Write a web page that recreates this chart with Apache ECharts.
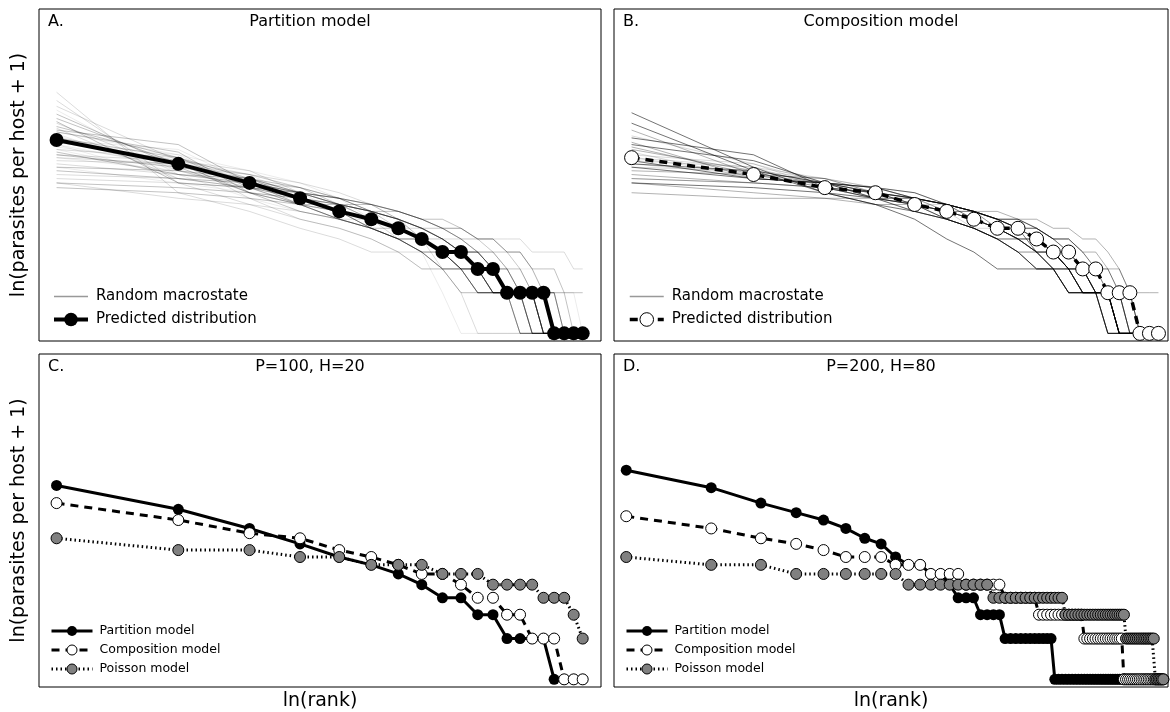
<!DOCTYPE html>
<html>
<head>
<meta charset="utf-8">
<script src="https://cdn.jsdelivr.net/npm/echarts@6/dist/echarts.min.js"></script>
<style>
html, body { margin: 0; padding: 0; background: #fff; }
#main { width: 1170px; height: 712px; }
</style>
</head>
<body>
<div id="main"></div>
<script>
var FONT = 'DejaVu Sans';

// parasites per host, sorted by rank (rank 1..H)
var partitionP100   = [26,17,12,9,7,6,5,4,3,3,2,2,1,1,1,1,0,0,0,0];
var compositionP100 = [19,14,11,10,8,7,6,5,5,4,3,3,2,2,1,1,1,0,0,0];
var poissonP100     = [10,8,8,7,7,6,6,6,5,5,5,4,4,4,4,3,3,3,2,1];

var partitionP200 = [34,25,19,16,14,12,10,9,7,6,6,5,5,4,3,3,3,2,2,2,
	2,1,1,1,1,1,1,1,1,1,1,1,0,0,0,0,0,0,0,0,
	0,0,0,0,0,0,0,0,0,0,0,0,0,0,0,0,0,0,0,0,
	0,0,0,0,0,0,0,0,0,0,0,0,0,0,0,0,0,0,0,0];
var compositionP200 = [15,12,10,9,8,7,7,7,6,6,6,5,5,5,5,4,4,4,4,4,
	4,3,3,3,3,3,3,3,2,2,2,2,2,2,2,2,2,2,2,2,
	2,1,1,1,1,1,1,1,1,1,1,1,1,1,1,1,1,0,0,0,
	0,0,0,0,0,0,0,0,0,0,0,0,0,0,0,0,0,0,0,0];
var poissonP200 = [7,6,6,5,5,5,5,5,5,4,4,4,4,4,4,4,4,4,4,3,
	3,3,3,3,3,3,3,3,3,3,3,3,3,3,3,2,2,2,2,2,
	2,2,2,2,2,2,2,2,2,2,2,2,2,2,2,2,2,2,1,1,
	1,1,1,1,1,1,1,1,1,1,1,1,1,1,0,0,0,0,0,0];

// random macrostates (P=100, H=20)
var randomPartitions = [
	[26,18,12,9,7,6,5,4,3,3,2,2,1,1,1,0,0,0,0,0],
	[35,15,11,8,7,5,4,4,3,2,2,1,1,1,1,0,0,0,0,0],
	[20,16,13,10,8,7,6,5,4,3,3,2,1,1,1,0,0,0,0,0],
	[44,14,9,7,6,5,4,3,2,2,1,1,1,1,0,0,0,0,0,0],
	[17,14,12,10,9,8,6,5,4,4,3,2,2,1,1,1,1,0,0,0],
	[30,21,10,8,6,5,5,4,3,2,2,1,1,1,1,0,0,0,0,0],
	[24,13,11,9,8,7,6,5,4,3,3,2,2,1,1,1,0,0,0,0],
	[52,12,8,6,5,4,3,3,2,2,1,1,1,0,0,0,0,0,0,0],
	[15,13,11,10,9,8,7,6,5,4,3,3,2,2,1,1,0,0,0,0],
	[28,16,14,9,7,6,4,4,3,3,2,1,1,1,1,0,0,0,0,0],
	[22,19,12,10,8,6,5,4,3,3,2,2,1,1,1,1,0,0,0,0],
	[38,17,10,8,6,5,4,3,3,2,1,1,1,1,0,0,0,0,0,0],
	[19,15,12,11,9,7,6,5,4,3,2,2,2,1,1,1,0,0,0,0],
	[32,13,12,9,8,6,5,4,3,2,2,1,1,1,1,0,0,0,0,0],
	[12,11,10,9,8,8,7,6,5,5,4,4,3,3,2,1,1,1,0,0],
	[25,20,11,9,7,6,5,4,3,2,2,2,1,1,1,1,0,0,0,0],
	[60,10,7,5,4,3,3,2,2,1,1,1,1,0,0,0,0,0,0,0],
	[21,14,13,10,8,7,6,5,4,3,3,2,1,1,1,1,0,0,0,0],
	[27,15,11,10,8,7,5,4,3,3,2,2,1,1,1,0,0,0,0,0],
	[18,17,12,10,9,7,6,5,4,3,3,2,1,1,1,1,0,0,0,0],
	[41,16,10,7,6,5,4,3,2,2,1,1,1,1,0,0,0,0,0,0],
	[23,17,13,9,8,6,5,4,4,3,2,2,1,1,1,1,0,0,0,0],
	[14,13,12,10,9,8,7,6,5,4,3,3,2,1,1,1,1,0,0,0],
	[33,19,11,8,7,5,4,3,3,2,2,1,1,1,0,0,0,0,0,0],
	[29,14,12,10,7,6,5,4,3,3,2,2,1,1,1,0,0,0,0,0],
	[47,18,9,6,5,4,3,2,2,1,1,1,1,0,0,0,0,0,0,0],
	[16,15,13,11,9,7,6,5,4,3,3,2,2,1,1,1,1,0,0,0],
	[26,22,12,8,7,5,4,4,3,2,2,2,1,1,1,0,0,0,0,0],
	[20,18,15,10,8,7,5,4,3,3,2,2,1,1,1,0,0,0,0,0],
	[36,12,11,9,7,6,5,4,3,2,2,1,1,1,0,0,0,0,0,0],
	[24,16,14,11,8,6,5,4,3,3,2,1,1,1,1,0,0,0,0,0],
	[19,17,14,11,8,7,6,4,4,3,2,2,1,1,1,0,0,0,0,0],
	[31,24,12,8,6,5,4,3,2,2,1,1,1,0,0,0,0,0,0,0],
	[22,14,12,11,9,7,6,5,4,3,2,2,1,1,1,0,0,0,0,0],
	[13,12,11,10,9,8,7,6,5,4,4,3,3,2,1,1,1,0,0,0],
	[27,19,13,9,7,5,4,4,3,3,2,1,1,1,1,0,0,0,0,0],
	[30,20,15,12,9,6,4,3,1,0,0,0,0,0,0,0,0,0,0,0],
	[25,18,14,12,10,8,6,4,2,1,0,0,0,0,0,0,0,0,0,0],
	[11,10,9,8,8,7,7,6,6,5,4,4,3,3,2,2,2,1,1,1],
	[16,12,10,9,8,7,6,5,5,4,4,3,3,2,2,1,1,1,1,0],
	[12,9,8,7,6,6,5,5,5,5,4,4,4,4,3,3,3,3,2,2]
];
var randomCompositions = [
	[19,14,11,10,8,7,6,5,5,4,3,3,2,2,1,0,0,0,0,0],
	[22,15,12,9,8,7,6,5,4,3,3,2,2,1,1,0,0,0,0,0],
	[16,13,12,10,9,8,7,6,5,4,3,2,2,1,1,1,0,0,0,0],
	[28,17,11,9,7,6,5,4,3,3,2,2,1,1,1,0,0,0,0,0],
	[14,12,11,10,9,8,7,6,5,5,4,3,2,2,1,1,0,0,0,0],
	[42,16,10,8,6,4,3,2,2,2,2,1,1,1,0,0,0,0,0,0],
	[20,17,12,10,8,7,5,5,4,3,3,2,2,1,1,0,0,0,0,0],
	[25,13,12,10,8,7,6,5,4,3,2,2,1,1,1,0,0,0,0,0],
	[12,11,10,9,9,8,7,6,6,5,4,4,3,2,2,1,1,0,0,0],
	[18,16,13,11,9,7,6,5,4,3,3,2,1,1,1,0,0,0,0,0],
	[31,14,11,9,8,6,5,4,3,3,2,1,1,1,1,0,0,0,0,0],
	[17,15,12,11,9,8,6,5,4,4,3,2,2,1,1,0,0,0,0,0],
	[21,13,12,10,9,7,6,5,4,4,3,2,1,1,1,1,0,0,0,0],
	[15,14,12,11,9,8,7,5,5,4,3,3,2,1,1,0,0,0,0,0],
	[35,15,10,8,7,6,5,4,3,2,2,1,1,1,0,0,0,0,0,0],
	[19,16,11,10,9,7,6,5,4,4,3,2,2,1,1,0,0,0,0,0],
	[13,12,11,10,9,8,7,7,6,5,4,3,2,1,1,1,0,0,0,0],
	[24,18,12,9,8,6,5,4,4,3,2,2,1,1,1,0,0,0,0,0],
	[17,14,13,10,8,8,7,6,5,4,3,2,1,1,1,0,0,0,0,0],
	[10,9,9,8,8,7,7,6,6,6,5,5,4,4,3,2,1,0,0,0],
	[27,20,11,9,7,6,5,4,3,2,2,1,1,1,1,0,0,0,0,0],
	[16,15,13,11,10,8,7,5,4,3,3,2,1,1,1,0,0,0,0,0],
	[23,14,13,10,8,7,6,5,4,3,2,2,1,1,1,0,0,0,0,0],
	[18,13,12,11,10,8,7,6,5,3,3,2,1,1,0,0,0,0,0,0],
	[13,12,11,10,9,8,7,6,5,5,4,3,2,2,1,1,1,0,0,0],
	[12,10,9,9,8,7,7,6,5,5,4,4,3,3,2,2,1,1,1,1]
];

var panelLetters = ['A.', 'B.', 'C.', 'D.'];
var panelTitles = ['Partition model', 'Composition model', 'P=100, H=20', 'P=200, H=80'];

/**
 * rank -> ln(rank), count -> ln(count + 1)
 */
function lnPoints(counts) {
	var pts = [];
	for (var i = 0; i < counts.length; i++) {
		pts.push([Math.log(i + 1), Math.log(counts[i] + 1)]);
	}
	return pts;
}

var grids = [
	{left: 39, top: 9, width: 562, height: 332},
	{left: 614, top: 9, width: 554, height: 332},
	{left: 39, top: 354, width: 562, height: 333},
	{left: 614, top: 354, width: 554, height: 333}
];
var xMax = [3.1, 3.05, 3.1, 4.42];

var gridOpt = [], xAxisOpt = [], yAxisOpt = [], graphicOpt = [];
for (var g = 0; g < 4; g++) {
	gridOpt.push({
		left: grids[g].left, top: grids[g].top, width: grids[g].width, height: grids[g].height,
		show: true, borderColor: '#000', borderWidth: 1, backgroundColor: '#fff',
		containLabel: false, outerBoundsMode: 'none'
	});
	xAxisOpt.push({
		type: 'value', gridIndex: g, min: -0.1, max: xMax[g],
		axisLine: {show: false}, axisTick: {show: false}, axisLabel: {show: false}, splitLine: {show: false},
		name: g >= 2 ? 'ln(rank)' : '', nameLocation: 'middle', nameGap: 5,
		nameTextStyle: {fontFamily: FONT, fontSize: 19, color: '#000', verticalAlign: 'top'}
	});
	yAxisOpt.push({
		type: 'value', gridIndex: g, min: -0.13, max: 5.53,
		axisLine: {show: false}, axisTick: {show: false}, axisLabel: {show: false}, splitLine: {show: false},
		name: g % 2 == 0 ? 'ln(parasites per host + 1)' : '', nameLocation: 'middle', nameGap: 10,
		nameTextStyle: {fontFamily: FONT, fontSize: 19, color: '#000'}
	});
	graphicOpt.push({
		type: 'text', x: grids[g].left + 9, y: grids[g].top + 13,
		style: {text: panelLetters[g], fontFamily: FONT, fontSize: 16, fill: '#000',
			textAlign: 'left', textVerticalAlign: 'middle', align: 'left', verticalAlign: 'middle'}
	});
	graphicOpt.push({
		type: 'text', x: grids[g].left + grids[g].width / 2 - 10, y: grids[g].top + 13,
		style: {text: panelTitles[g], fontFamily: FONT, fontSize: 16, fill: '#000',
			textAlign: 'center', textVerticalAlign: 'middle', align: 'center', verticalAlign: 'middle'}
	});
}

var series = [];
var opA = [0.08, 0.14, 0.24];
for (var i = 0; i < randomPartitions.length; i++) {
	series.push({
		name: 'Random macrostate', type: 'line', xAxisIndex: 0, yAxisIndex: 0,
		symbol: 'none', silent: true, z: 1,
		lineStyle: {color: '#000', width: 1, opacity: opA[i % 3]},
		data: lnPoints(randomPartitions[i])
	});
}
var opB = [0.15, 0.3, 0.55];
for (var i = 0; i < randomCompositions.length; i++) {
	series.push({
		name: 'Random macrostate', type: 'line', xAxisIndex: 1, yAxisIndex: 1,
		symbol: 'none', silent: true, z: 1,
		lineStyle: {color: '#000', width: 1, opacity: opB[i % 3]},
		data: lnPoints(randomCompositions[i])
	});
}

function partitionSeries(name, idx, counts, size, width) {
	return {
		name: name, type: 'line', xAxisIndex: idx, yAxisIndex: idx, z: 3,
		symbol: 'circle', symbolSize: size,
		itemStyle: {color: '#000'},
		lineStyle: {color: '#000', width: width},
		data: lnPoints(counts)
	};
}
function compositionSeries(name, idx, counts, size, width) {
	return {
		name: name, type: 'line', xAxisIndex: idx, yAxisIndex: idx, z: 3,
		symbol: 'circle', symbolSize: size,
		itemStyle: {color: '#fff', borderColor: '#000', borderWidth: 1},
		lineStyle: {color: '#000', width: width, type: [8, 6]},
		data: lnPoints(counts)
	};
}
function poissonSeries(name, idx, counts, size, width) {
	return {
		name: name, type: 'line', xAxisIndex: idx, yAxisIndex: idx, z: 3,
		symbol: 'circle', symbolSize: size,
		itemStyle: {color: '#808080', borderColor: '#000', borderWidth: 1},
		lineStyle: {color: '#000', width: width, type: [1.5, 3]},
		data: lnPoints(counts)
	};
}

series.push(partitionSeries('Predicted distribution', 0, partitionP100, 14, 4));
series.push(compositionSeries('Predicted distribution ', 1, compositionP100, 14, 3.5));
series.push(partitionSeries('Partition model', 2, partitionP100, 11, 3));
series.push(compositionSeries('Composition model', 2, compositionP100, 11, 3));
series.push(poissonSeries('Poisson model', 2, poissonP100, 11, 3));
series.push(partitionSeries('Partition model', 3, partitionP200, 11, 3));
series.push(compositionSeries('Composition model', 3, compositionP200, 11, 3));
series.push(poissonSeries('Poisson model', 3, poissonP200, 11, 3));

function bigLegend(left, predictedName, predictedItem, predictedLine) {
	return {
		left: left, top: 289, orient: 'vertical', padding: 0,
		itemWidth: 34, itemHeight: 17, itemGap: 8, selectedMode: false,
		textStyle: {fontFamily: FONT, fontSize: 15, color: '#000', padding: [0, 0, 0, 3]},
		data: [
			{name: 'Random macrostate', lineStyle: {color: '#999', width: 1.5, opacity: 1},
				itemStyle: {color: 'rgba(0,0,0,0)', borderWidth: 0, opacity: 0}},
			{name: predictedName, itemStyle: predictedItem, lineStyle: predictedLine}
		]
	};
}
function smallLegend(left) {
	return {
		left: left, top: 624.5, orient: 'vertical', padding: 0,
		itemWidth: 41, itemHeight: 12.5, itemGap: 6, selectedMode: false,
		textStyle: {fontFamily: FONT, fontSize: 12.5, color: '#000', padding: [0, 0, 0, 2]},
		data: [
			{name: 'Partition model', lineStyle: {width: 3}},
			{name: 'Composition model', lineStyle: {width: 3}, itemStyle: {borderWidth: 1}},
			{name: 'Poisson model', lineStyle: {width: 3}, itemStyle: {borderWidth: 1}}
		]
	};
}

var option = {
	animation: false,
	backgroundColor: '#fff',
	textStyle: {fontFamily: FONT},
	grid: gridOpt,
	xAxis: xAxisOpt,
	yAxis: yAxisOpt,
	legend: [
		bigLegend(52, 'Predicted distribution', {color: '#000'}, {width: 4}),
		bigLegend(628, 'Predicted distribution ', {borderWidth: 1}, {width: 3.5}),
		smallLegend(50),
		smallLegend(625)
	],
	graphic: graphicOpt,
	series: series
};

var myChart = echarts.init(document.getElementById('main'));
myChart.setOption(option);
</script>
</body>
</html>
